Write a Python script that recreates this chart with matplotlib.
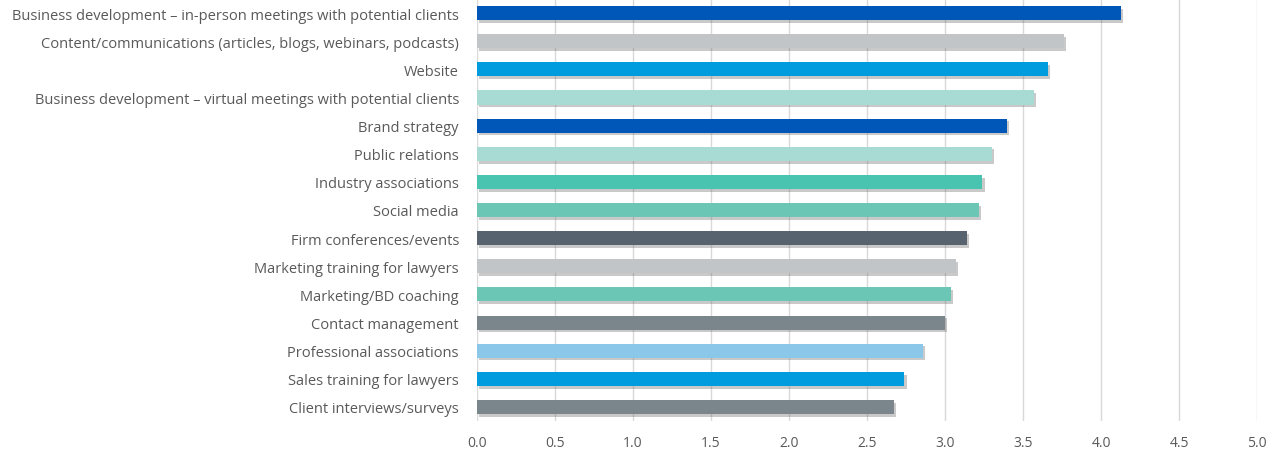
import matplotlib
matplotlib.use("Agg")
import matplotlib.pyplot as plt
import matplotlib.patheffects as pe
import numpy as np

# survey categories, top to bottom
categories = [
    "Business development \u2013 in-person meetings with potential clients",
    "Content/communications (articles, blogs, webinars, podcasts)",
    "Website",
    "Business development \u2013 virtual meetings with potential clients",
    "Brand strategy",
    "Public relations",
    "Industry associations",
    "Social media",
    "Firm conferences/events",
    "Marketing training for lawyers",
    "Marketing/BD coaching",
    "Contact management",
    "Professional associations",
    "Sales training for lawyers",
    "Client interviews/surveys",
]
scores = [4.13, 3.76, 3.66, 3.57, 3.40, 3.30, 3.24, 3.22, 3.14, 3.07,
          3.04, 3.00, 2.86, 2.74, 2.67]
bar_colors = ["#0057B8", "#C1C5C8", "#009CDE", "#A7DBD3", "#0057B8",
              "#A7DBD3", "#48C4B0", "#6CC6B6", "#57636E", "#C1C5C8",
              "#6CC6B6", "#7A868C", "#8BC7E8", "#009CDE", "#7A868C"]
xticks = [0.0, 0.5, 1.0, 1.5, 2.0, 2.5, 3.0, 3.5, 4.0, 4.5, 5.0]

plt.rcParams['font.family'] = ['Open Sans', 'DejaVu Sans']

fig = plt.figure(figsize=(12.83, 4.56), dpi=100)
ax = fig.add_axes([477 / 1283, 1 - 422 / 456, 780 / 1283, 422 / 456])

y = np.arange(len(categories))
bars = ax.barh(y, scores, height=0.5, color=bar_colors, zorder=3)
for b in bars:
    b.set_path_effects([pe.SimplePatchShadow(offset=(1.5, -2), shadow_rgbFace="#666666", alpha=0.35),
                        pe.Normal()])

ax.set_yticks(y)
ax.set_yticklabels(categories)
ax.set_ylim(len(categories) - 0.5, -0.5)
ax.set_xlim(0, 5)
ax.set_xticks(xticks)
ax.set_xticklabels([f"{t:.1f}" for t in xticks])

ax.grid(axis="x", color="#D9D9D9", linewidth=1, zorder=0)
for s in ax.spines.values():
    s.set_visible(False)
ax.tick_params(axis="both", length=0, colors="#595959")
ax.tick_params(axis="y", pad=13, labelsize=10.5)
ax.tick_params(axis="x", pad=10, labelsize=10)

plt.savefig("out.png", dpi=100)
